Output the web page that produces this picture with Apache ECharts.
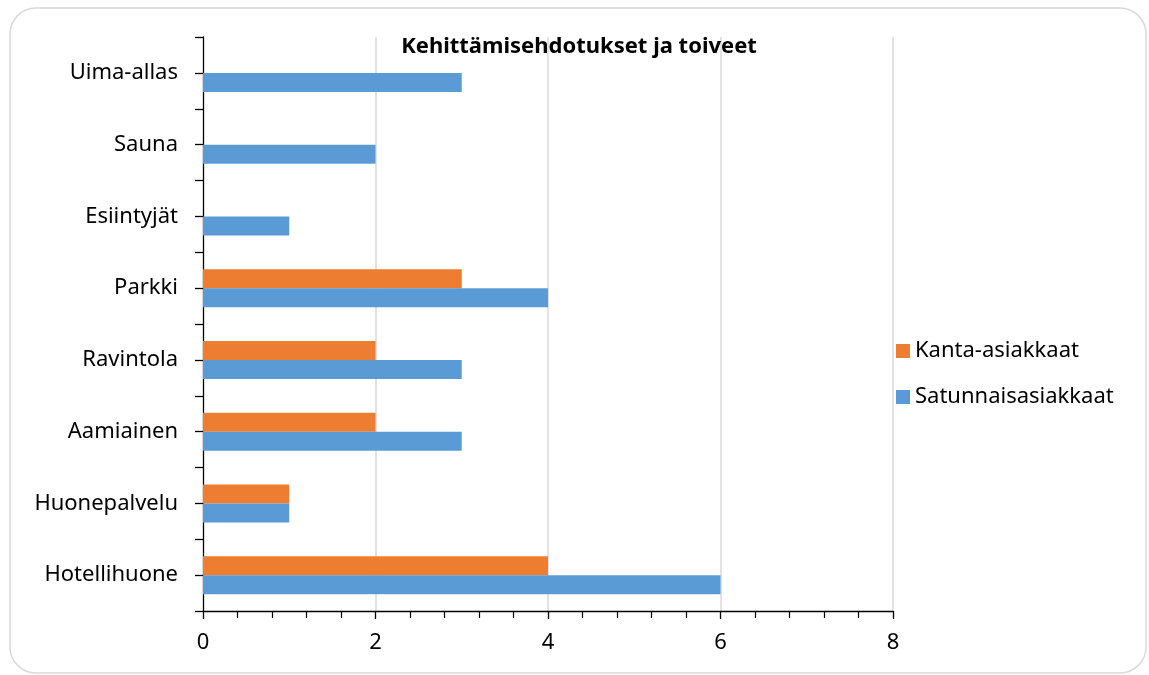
<!DOCTYPE html>
<html>
<head>
<meta charset="utf-8">
<script src="https://cdn.jsdelivr.net/npm/echarts@6/dist/echarts.min.js"></script>
<style>
  html, body { margin: 0; padding: 0; background: #fff; }
  #main { width: 1149px; height: 675px; }
</style>
</head>
<body>
<div id="main"></div>
<script>
  // data (bottom to top, as ECharts lays out a y category axis)
  var categories = ["Hotellihuone", "Huonepalvelu", "Aamiainen", "Ravintola", "Parkki", "Esiintyjät", "Sauna", "Uima-allas"];
  var kantaAsiakkaat = [4, 1, 2, 2, 3, 0, 0, 0];
  var satunnaisAsiakkaat = [6, 1, 3, 3, 4, 1, 2, 3];
  var seriesNames = ["Kanta-asiakkaat", "Satunnaisasiakkaat"];
  var chartTitle = "Kehittämisehdotukset ja toiveet";

  var font = "Noto Sans";
  var chart = echarts.init(document.getElementById("main"));

  var option = {
    animation: false,
    textStyle: { fontFamily: font },
    title: {
      text: chartTitle,
      left: 574,
      top: 31,
      textAlign: "center",
      textStyle: { fontSize: 22, fontWeight: "bold", color: "#000", fontFamily: font }
    },
    legend: {
      orient: "vertical",
      left: 891,
      top: 335,
      itemWidth: 14,
      itemHeight: 14,
      itemGap: 24,
      icon: "rect",
      data: [seriesNames[0], seriesNames[1]],
      textStyle: { fontSize: 22, color: "#000", fontFamily: font }
    },
    graphic: [
      {
        type: "rect",
        shape: { x: 10, y: 8, width: 1136, height: 665, r: 26 },
        style: { fill: "none", stroke: "#d9d9d9", lineWidth: 1.5 },
        silent: true,
        z: -1
      }
    ],
    grid: { left: 203, right: 256, top: 37, bottom: 64 },
    xAxis: {
      type: "value",
      min: 0,
      max: 8,
      interval: 2,
      axisLine: { show: true, lineStyle: { color: "#000", width: 1.3 } },
      axisTick: { show: true, length: 8, lineStyle: { color: "#000", width: 1.3 } },
      minorTick: { show: true, splitNumber: 5, length: 7, lineStyle: { color: "#000", width: 1.2 } },
      axisLabel: { fontSize: 22, color: "#000", margin: 21, fontFamily: font },
      splitLine: { show: true, lineStyle: { color: "#d9d9d9", width: 1.5 }, showMinLine: false }
    },
    yAxis: [
      {
        type: "category",
        data: categories,
        axisLine: { show: true, lineStyle: { color: "#000", width: 1.3 } },
        axisTick: { show: true, length: 8, lineStyle: { color: "#000", width: 1.3 } },
        axisLabel: { fontSize: 22, color: "#000", margin: 25, fontFamily: font },
        splitLine: { show: false }
      },
      {
        // center ticks only
        type: "category",
        data: categories,
        position: "left",
        axisLine: { show: false },
        axisTick: { show: true, alignWithLabel: true, length: 8, lineStyle: { color: "#000", width: 1.3 } },
        axisLabel: { show: false },
        splitLine: { show: false }
      }
    ],
    series: [
      {
        name: seriesNames[0],
        type: "bar",
        data: kantaAsiakkaat,
        barWidth: 19,
        barGap: "0%",
        itemStyle: { color: "#ED7D31" }
      },
      {
        name: seriesNames[1],
        type: "bar",
        data: satunnaisAsiakkaat,
        barWidth: 19,
        barGap: "0%",
        itemStyle: { color: "#5B9BD5" }
      }
    ]
  };
  chart.setOption(option);
</script>
</body>
</html>
